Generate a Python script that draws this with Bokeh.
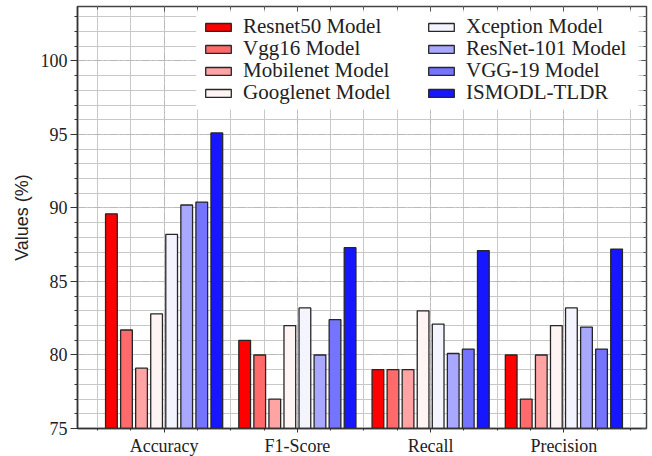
from bokeh.plotting import figure
from bokeh.models import (FixedTicker, LinearAxis, Legend, LegendItem, Range1d,
                          CustomJSTickFormatter, ColumnDataSource, BoxAnnotation)
from bokeh.embed import file_html
from bokeh.resources import INLINE

categories = ["Accuracy", "F1-Score", "Recall", "Precision"]
models = ["Resnet50 Model", "Vgg16 Model", "Mobilenet Model", "Googlenet Model",
          "Xception Model", "ResNet-101 Model", "VGG-19 Model", "ISMODL-TLDR"]
values = {
    "Resnet50 Model":   [89.6, 81.0, 79.0, 80.0],
    "Vgg16 Model":      [81.7, 80.0, 79.0, 77.0],
    "Mobilenet Model":  [79.1, 77.0, 79.0, 80.0],
    "Googlenet Model":  [82.8, 82.0, 83.0, 82.0],
    "Xception Model":   [88.2, 83.2, 82.1, 83.2],
    "ResNet-101 Model": [90.2, 80.0, 80.1, 81.9],
    "VGG-19 Model":     [90.4, 82.4, 80.4, 80.4],
    "ISMODL-TLDR":      [95.1, 87.3, 87.1, 87.2],
}
colors = ["#ff0000", "#ff6b6b", "#ffa3a3", "#fff4f4",
          "#f4f4ff", "#a8a8ff", "#7474ff", "#1616ff"]
y_ticks = [75, 80, 85, 90, 95, 100]
y_label = "Values (%)"

SERIF = "Liberation Serif"

p = figure(frame_width=569, frame_height=422, output_backend="svg",
           toolbar_location=None, x_range=Range1d(-0.65, 3.62),
           y_range=Range1d(75, 103.7),
           min_border_left=77, min_border_right=6, min_border_top=6,
           min_border_bottom=28)
p.outline_line_color = "#444444"
p.outline_line_width = 1.5
p.background_fill_color = "white"
p.border_fill_color = "white"

pitch = 0.113
bw = 0.088
renderers = []
for i, m in enumerate(models):
    xs = [k + (i - 3.5) * pitch for k in range(len(categories))]
    src = ColumnDataSource(dict(x=xs, top=values[m]))
    r = p.vbar(x="x", top="top", bottom=75, width=bw, source=src,
               fill_color=colors[i], line_color="#262626", line_width=1.3)
    renderers.append(r)

x_minor = [-0.5 + 0.25 * k for k in range(17)]
y_minor = list(range(75, 104))

# x axis
xa = p.xaxis[0]
xa.ticker = FixedTicker(ticks=[0, 1, 2, 3], minor_ticks=x_minor)
xa.formatter = CustomJSTickFormatter(args=dict(labels=categories),
                                     code="return labels[Math.round(tick)] || '';")
xa.major_label_text_font = SERIF
xa.major_label_text_font_size = "18px"
xa.major_label_text_color = "#222222"
xa.major_tick_out = 4
xa.major_tick_in = 0
xa.minor_tick_out = 2
xa.minor_tick_in = 0
xa.major_label_standoff = 3
xa.axis_line_color = "#333333"
xa.axis_line_width = 1.5
xa.major_tick_line_color = "#333333"
xa.minor_tick_line_color = "#333333"

ya = p.yaxis[0]
ya.ticker = FixedTicker(ticks=y_ticks, minor_ticks=y_minor)
ya.major_label_text_font = SERIF
ya.major_label_text_font_size = "18px"
ya.major_label_text_color = "#222222"
ya.major_tick_out = 7
ya.major_tick_in = 0
ya.minor_tick_out = 3
ya.minor_tick_in = 0
ya.major_label_standoff = 3
ya.axis_line_color = "#333333"
ya.axis_line_width = 1.5
ya.major_tick_line_color = "#333333"
ya.minor_tick_line_color = "#333333"
ya.axis_label = y_label
ya.axis_label_text_font = "Liberation Sans"
ya.axis_label_text_font_size = "18px"
ya.axis_label_text_font_style = "normal"
ya.axis_label_text_color = "#222222"
ya.axis_label_standoff = 6

# grids
for g, major_ticker in ((p.xgrid[0], xa.ticker), (p.ygrid[0], ya.ticker)):
    g.ticker = major_ticker
    g.grid_line_color = "#b8b8b8"
    g.grid_line_dash = "8 3 2 3"
    g.grid_line_width = 1
    g.minor_grid_line_color = "#c8c8c8"
    g.minor_grid_line_width = 1

# top and right ticks only
ta = LinearAxis(ticker=FixedTicker(ticks=[0, 1, 2, 3], minor_ticks=x_minor),
                formatter=CustomJSTickFormatter(code="return '';"),
                major_tick_out=0, major_tick_in=5,
                minor_tick_out=0, minor_tick_in=3, major_label_standoff=0,
                axis_line_color=None, major_tick_line_color="#555555",
                minor_tick_line_color="#555555")
ra = LinearAxis(ticker=FixedTicker(ticks=y_ticks, minor_ticks=y_minor),
                formatter=CustomJSTickFormatter(code="return '';"),
                major_tick_out=0, major_tick_in=5,
                minor_tick_out=0, minor_tick_in=3, major_label_standoff=0,
                axis_line_color=None, major_tick_line_color="#555555",
                minor_tick_line_color="#555555")
p.add_layout(ta, "above")
p.add_layout(ra, "right")

# white backdrop for the legend block
p.add_layout(BoxAnnotation(left=0.24, right=3.56, bottom=96.7, top=103.35,
                           fill_color="white", fill_alpha=1.0, line_color=None))

# one legend per row (two entries each), transparent backgrounds
row_y = [389, 367, 345, 323]
for r_i in range(4):
    items = [LegendItem(label=models[r_i], renderers=[renderers[r_i]]),
             LegendItem(label=models[r_i + 4], renderers=[renderers[r_i + 4]])]
    lg = Legend(items=items, location=(125, row_y[r_i]), orientation="horizontal",
                label_text_font=SERIF, label_text_font_size="21px",
                label_text_color="#222222",
                glyph_width=32, glyph_height=10, label_standoff=9,
                label_height=22, label_width=160, spacing=22, padding=0,
                margin=0, border_line_color=None,
                background_fill_alpha=0.0)
    p.add_layout(lg, "center")

open("out.html", "w").write(file_html(p, INLINE))
